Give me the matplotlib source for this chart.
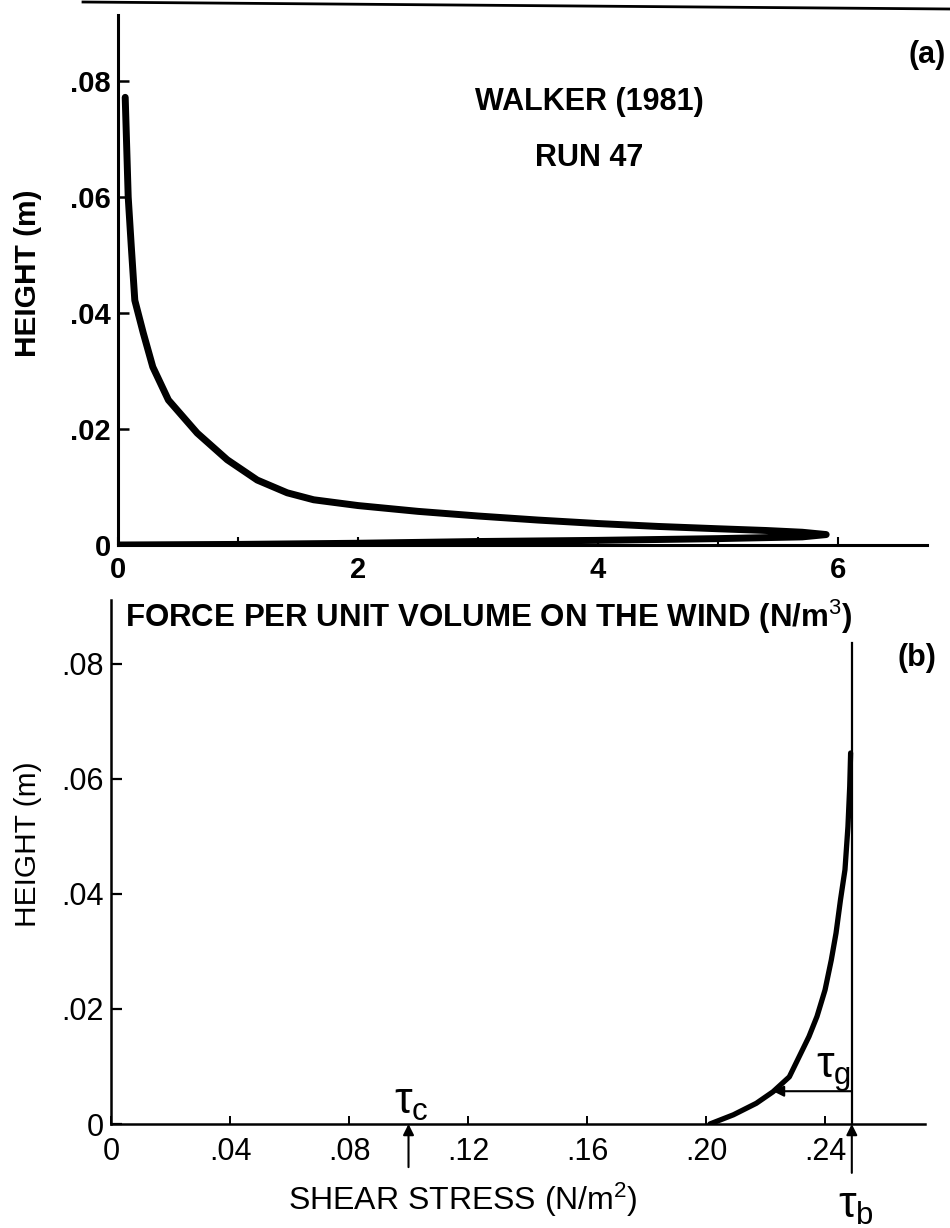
import matplotlib.pyplot as plt
from matplotlib.lines import Line2D

plt.rcParams['font.family'] = ['Liberation Sans', 'DejaVu Sans']
plt.rcParams['mathtext.fontset'] = 'custom'
plt.rcParams['mathtext.rm'] = 'Liberation Sans'
plt.rcParams['mathtext.it'] = 'Liberation Sans'

W, H = 950, 1228

# (a) force per unit volume on the wind: down the upper branch, back along the bed
force = [0.06, 0.085, 0.11, 0.14, 0.21, 0.29, 0.42, 0.66, 0.91, 1.16, 1.41, 1.63,
         2.0, 2.5, 3.0, 3.5, 4.0, 4.5, 5.0, 5.4, 5.7, 5.9,
         5.7, 5.0, 4.0, 3.0, 2.0, 1.0, 0.0]
height_a = [0.0772, 0.060, 0.0517, 0.0422, 0.0366, 0.0307, 0.025, 0.0193, 0.0147,
            0.0112, 0.009, 0.0078, 0.0068, 0.0058, 0.005, 0.0043, 0.0037, 0.0032,
            0.0028, 0.0025, 0.0022, 0.0018,
            0.0014, 0.0011, 0.0008, 0.0006, 0.0003, 0.0001, 0.0]
a_xticks = [0, 2, 4, 6]
a_xlabels = ['0', '2', '4', '6']
a_minor = [1, 3, 5]

yticks = [0, 0.02, 0.04, 0.06, 0.08]
ylabels = ['0', '.02', '.04', '.06', '.08']

# (b) shear stress profile
stress = [0.2013, 0.2092, 0.2169, 0.2225, 0.2280, 0.2313, 0.2346, 0.2373, 0.2400,
          0.2421, 0.2437, 0.2452, 0.2467, 0.2477, 0.2483, 0.2486]
height_b = [0.0, 0.0016, 0.0036, 0.0056, 0.0082, 0.0117, 0.0152, 0.0187, 0.0233,
            0.0285, 0.0332, 0.0390, 0.0442, 0.0517, 0.0587, 0.0645]
b_xticks = [0, 0.04, 0.08, 0.12, 0.16, 0.20, 0.24]
b_xlabels = ['0', '.04', '.08', '.12', '.16', '.20', '.24']
tau_c = 0.10
tau_b = 0.249
tau_b_top = 0.0836
tau_g_height = 0.0057
tau_g_end = 0.2225


def fx(px):
    return px / W


def fy(py):
    return 1 - py / H


fig = plt.figure(figsize=(9.5, 12.28), dpi=100)

# ---------- panel (a)
ax = fig.add_axes([fx(118), fy(545), fx(927) - fx(118), fy(15) - fy(545)])
ax.plot(force, height_a, color='black', lw=5, solid_capstyle='round', solid_joinstyle='round')
ax.set_xlim(0, 6.74)
ax.set_ylim(0, 0.0914)
for s in ['top', 'right']:
    ax.spines[s].set_visible(False)
for s in ['left', 'bottom']:
    ax.spines[s].set_linewidth(2.2)
ax.set_xticks(a_xticks)
ax.set_xticklabels(a_xlabels, fontsize=21, fontweight='bold')
ax.set_xticks(a_minor, minor=True)
ax.set_yticks(yticks)
ax.set_yticklabels(ylabels, fontsize=21, fontweight='bold')
ax.tick_params(axis='x', which='both', direction='in', length=6, width=1.5, pad=8)
ax.tick_params(axis='y', direction='in', length=8, width=1.8, pad=5)

fig.text(fx(28), fy(273), 'HEIGHT (m)', rotation=90, fontsize=21.5, fontweight='bold',
         ha='center', va='center')
fig.text(fx(489), fy(617), 'FORCE PER UNIT VOLUME ON THE WIND (N/m$^3$)', fontsize=22.5,
         fontweight='bold', ha='center', va='center')
fig.text(fx(589), fy(102), 'WALKER (1981)', fontsize=22, fontweight='bold',
         ha='center', va='center')
fig.text(fx(589), fy(158), 'RUN 47', fontsize=22, fontweight='bold',
         ha='center', va='center')
fig.text(fx(927), fy(55), '(a)', fontsize=22, fontweight='bold', ha='center', va='center')

# ---------- panel (b)
bx = fig.add_axes([fx(111), fy(1124), fx(925) - fx(111), fy(600) - fy(1124)])
bx.plot(stress, height_b, color='black', lw=3.8, solid_capstyle='round',
        solid_joinstyle='round')
bx.plot([tau_b, tau_b], [0, tau_b_top], color='black', lw=1.6)
bx.set_xlim(0, 0.2736)
bx.set_ylim(0, 0.0911)
for s in ['top', 'right']:
    bx.spines[s].set_visible(False)
for s in ['left', 'bottom']:
    bx.spines[s].set_linewidth(1.8)
bx.set_xticks(b_xticks)
bx.set_xticklabels(b_xlabels, fontsize=22)
bx.set_yticks(yticks)
bx.set_yticklabels(ylabels, fontsize=22)
bx.tick_params(axis='x', direction='in', length=6, width=1.4, pad=9)
bx.tick_params(axis='y', direction='in', length=8, width=1.6, pad=5)

arrow = dict(arrowstyle='-|>', color='black', lw=1.5, mutation_scale=16, shrinkA=0, shrinkB=0)
bx.annotate('', xy=(tau_c, 0), xytext=(tau_c, -0.0075), arrowprops=arrow,
            annotation_clip=False)
bx.annotate('', xy=(tau_b, 0), xytext=(tau_b, -0.0085), arrowprops=arrow,
            annotation_clip=False)
bx.annotate('', xy=(tau_g_end, tau_g_height), xytext=(tau_b, tau_g_height),
            arrowprops=arrow)
bx.text(0.1010, 0.0037, r'$\tau_c$', fontsize=32, ha='center', va='center')
bx.text(0.2427, 0.0090, r'$\tau_g$', fontsize=32, ha='center', va='center')
bx.text(0.2504, -0.0144, r'$\tau_b$', fontsize=32, ha='center', va='center',
        clip_on=False)

fig.text(fx(28), fy(844), 'HEIGHT (m)', rotation=90, fontsize=21.5, ha='center', va='center')
fig.text(fx(463), fy(1200), 'SHEAR STRESS (N/m$^2$)', fontsize=23, ha='center', va='center')
fig.text(fx(917), fy(658), '(b)', fontsize=22, fontweight='bold', ha='center', va='center')

# scanned page edge along the top
fig.add_artist(Line2D([fx(83), fx(950)], [fy(2), fy(9)], color='black', lw=2))

fig.savefig('out.png', dpi=100)
